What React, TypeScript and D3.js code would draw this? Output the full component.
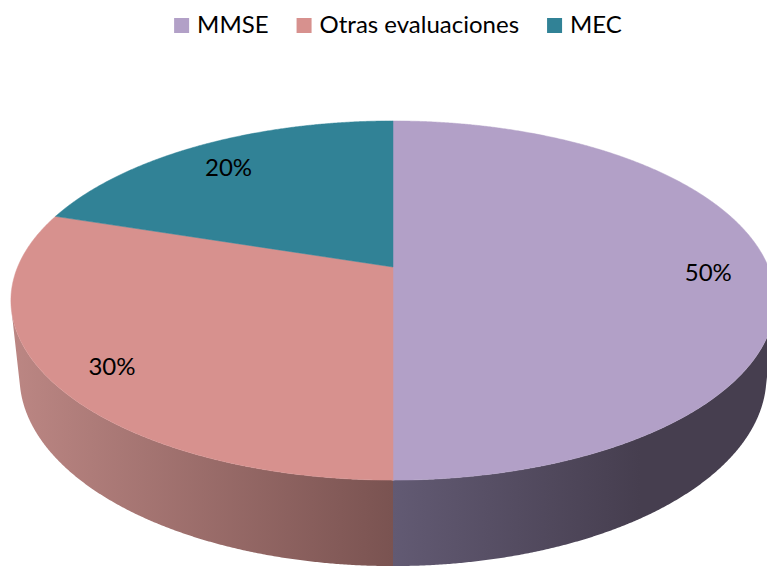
import React, { useEffect, useRef } from "react";
import * as d3 from "d3";

const categories = ["MMSE", "Otras evaluaciones", "MEC"];
const values = [50, 30, 20];
const labels = ["50%", "30%", "20%"];
const topColors = ["#b2a0c7", "#d7918e", "#318296"];
const sideStops = [
  ["#625a73", "#463e4f"],
  ["#bb8683", "#7a5351"],
  ["#23606f", "#1c4b57"],
];

const W = 767;
const H = 566;
const FONT = "Lato, 'Open Sans', sans-serif";

export default function App() {
  const ref = useRef<SVGSVGElement>(null);

  useEffect(() => {
    const svg = d3.select(ref.current);
    svg.selectAll("*").remove();

    // perspective model of the pie disk
    const cx = 393, cy = 267;
    const R = 1, D = 4.75, F = 1783, T = 0.23;
    const alpha = (27.5 * Math.PI) / 180;
    const sa = Math.sin(alpha), ca = Math.cos(alpha);
    const project = (phi: number, h: number, r = R): [number, number] => {
      const X = r * Math.sin(phi), Z = r * Math.cos(phi);
      const yc = Z * sa - h * T * ca;
      const zc = D + Z * ca + h * T * sa;
      return [cx + (F * X) / zc, cy - (F * yc) / zc];
    };

    const pie = d3.pie<number>().sort(null).value((d) => d).startAngle(0).endAngle(2 * Math.PI);
    const arcs = pie(values);

    const defs = svg.append("defs");
    arcs.forEach((a, i) => {
      const g = defs
        .append("linearGradient")
        .attr("id", `side${i}`)
        .attr("gradientUnits", "userSpaceOnUse")
        .attr("x1", i === 0 ? 393 : 15)
        .attr("x2", i === 0 ? 640 : 393)
        .attr("y1", 0)
        .attr("y2", 0);
      g.append("stop").attr("offset", 0).attr("stop-color", sideStops[i][0]);
      g.append("stop").attr("offset", 1).attr("stop-color", sideStops[i][1]);
    });

    const step = (0.25 * Math.PI) / 180;
    const line = d3.line<[number, number]>();

    // side walls
    arcs.forEach((a, i) => {
      const vis: number[] = [];
      for (let p = a.startAngle; p <= a.endAngle + 1e-9; p += step) {
        const q = Math.min(p + step, a.endAngle);
        const A = project(p, 0), B = project(q, 0), C = project(q, 1);
        const cross = (B[0] - A[0]) * (C[1] - B[1]) - (B[1] - A[1]) * (C[0] - B[0]);
        if (cross < 0) vis.push(p);
      }
      if (vis.length < 2) return;
      const s = Math.max(a.startAngle, vis[0] - step);
      const e = Math.min(a.endAngle, vis[vis.length - 1] + step);
      const pts: [number, number][] = [];
      for (let p = s; p <= e; p += step) pts.push(project(p, 0));
      pts.push(project(e, 0));
      for (let p = e; p >= s; p -= step) pts.push(project(p, 1));
      pts.push(project(s, 1));
      svg.append("path").attr("d", line(pts) + "Z").attr("fill", `url(#side${i})`);
    });

    // top faces
    arcs.forEach((a, i) => {
      const pts: [number, number][] = [[cx, cy]];
      for (let p = a.startAngle; p <= a.endAngle; p += step) pts.push(project(p, 0));
      pts.push(project(a.endAngle, 0));
      svg
        .append("path")
        .attr("d", line(pts) + "Z")
        .attr("fill", topColors[i])
        .attr("stroke", topColors[i])
        .attr("stroke-width", 0.5);
    });

    // data labels
    arcs.forEach((a, i) => {
      const mid = (a.startAngle + a.endAngle) / 2;
      const [lx, ly] = project(mid, 0, 0.84);
      svg
        .append("text")
        .attr("x", lx)
        .attr("y", ly + 4)
        .attr("text-anchor", "middle")
        .attr("dominant-baseline", "central")
        .attr("font-family", FONT)
        .attr("font-size", 24)
        .attr("fill", "#000")
        .text(labels[i]);
    });

    // legend
    const lg = svg.append("g");
    const sq = 15, gapIn = 8, gapOut = 28;
    const items = categories.map((c, i) => {
      const g = lg.append("g");
      g.append("rect").attr("width", sq).attr("height", sq).attr("y", 18).attr("fill", topColors[i]);
      const t = g
        .append("text")
        .attr("x", sq + gapIn)
        .attr("y", 33)
        .attr("font-family", FONT)
        .attr("font-size", 24)
        .attr("fill", "#000")
        .text(c);
      const w = (t.node() as SVGTextElement).getComputedTextLength();
      return { g, w: sq + gapIn + w };
    });
    const total = d3.sum(items, (d) => d.w) + gapOut * (items.length - 1);
    let x = 398 - total / 2;
    items.forEach((it) => {
      it.g.attr("transform", `translate(${x},0)`);
      x += it.w + gapOut;
    });
  }, []);

  return (
    <svg
      ref={ref}
      width={W}
      height={H}
      style={{ position: "absolute", left: 0, top: 0, background: "#fff" }}
    />
  );
}
